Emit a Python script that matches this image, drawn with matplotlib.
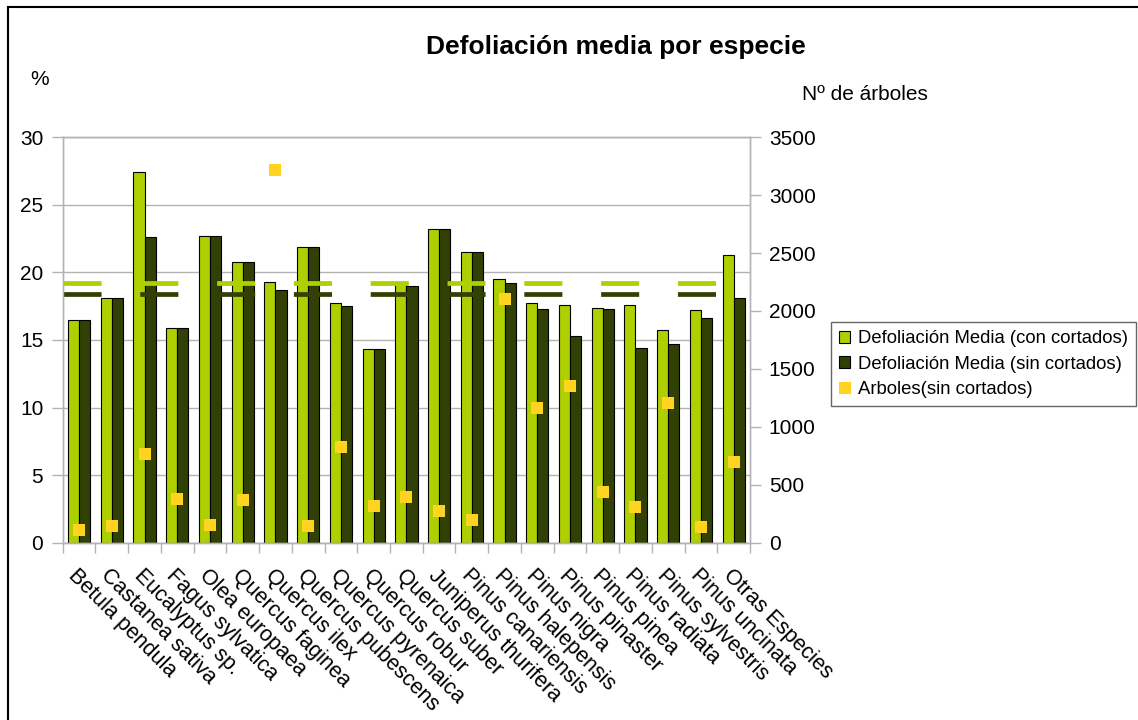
import numpy as np
import matplotlib
matplotlib.use("Agg")
import matplotlib.pyplot as plt
from matplotlib.lines import Line2D
from matplotlib.ticker import MultipleLocator, FixedLocator

plt.rcParams['font.family'] = ['Liberation Sans', 'DejaVu Sans']
plt.rcParams['lines.scale_dashes'] = False

# --- datos por especie ---
especies = [
    "Betula pendula", "Castanea sativa", "Eucalyptus sp.", "Fagus sylvatica",
    "Olea europaea", "Quercus faginea", "Quercus ilex", "Quercus pubescens",
    "Quercus pyrenaica", "Quercus robur", "Quercus suber", "Juniperus thurifera",
    "Pinus canariensis", "Pinus halepensis", "Pinus nigra", "Pinus pinaster",
    "Pinus pinea", "Pinus radiata", "Pinus sylvestris", "Pinus uncinata",
    "Otras Especies",
]
defol_con = [16.5, 18.1, 27.4, 15.9, 22.7, 20.8, 19.3, 21.9, 17.7, 14.3, 19.2,
             23.2, 21.5, 19.5, 17.7, 17.6, 17.4, 17.6, 15.7, 17.2, 21.3]
defol_sin = [16.5, 18.1, 22.6, 15.9, 22.7, 20.8, 18.7, 21.9, 17.5, 14.3, 19.0,
             23.2, 21.5, 19.2, 17.3, 15.3, 17.3, 14.4, 14.7, 16.6, 18.1]
arboles = [110, 140, 765, 380, 155, 365, 3220, 140, 830, 320, 395,
           275, 195, 2105, 1165, 1355, 435, 310, 1210, 135, 700]

# medias globales
media_con = 19.2
media_sin = 18.4

c_con = "#aecf00"
c_sin = "#314004"
c_arb = "#ffd320"
c_grid = "#b3b3b3"

fig = plt.figure(figsize=(11.38, 7.2), dpi=100)
ax = fig.add_axes([0.0551, 0.2463, 0.6040, 0.5631])
ax2 = ax.twinx()

x = np.arange(len(especies))
w = 0.34
b1 = ax.bar(x - w / 2, defol_con, w, color=c_con, edgecolor="black", linewidth=0.8,
            zorder=2, label="Defoliación Media (con cortados)")
b2 = ax.bar(x + w / 2, defol_sin, w, color=c_sin, edgecolor="black", linewidth=0.8,
            zorder=2, label="Defoliación Media (sin cortados)")

# lineas de media discontinuas
for val, col in [(media_con, c_con), (media_sin, c_sin)]:
    ax.plot([-0.5, len(especies) - 0.5], [val, val], color=col, lw=3.4,
            dashes=(27.4, 27.9), solid_capstyle="butt", dash_capstyle="butt", zorder=3)

m, = ax2.plot(x, arboles, "s", color=c_arb, markersize=8.6, markeredgewidth=0,
              linestyle="none", label="Arboles(sin cortados)", zorder=4)

ax.set_xlim(-0.5, len(especies) - 0.5)
ax.set_ylim(0, 30)
ax2.set_ylim(0, 3500)
ax.yaxis.set_major_locator(MultipleLocator(5))
ax2.yaxis.set_major_locator(MultipleLocator(500))

ax.yaxis.grid(True, color=c_grid, lw=1.0)
ax.set_axisbelow(True)

ax.set_xticks(x)
ax.set_xticklabels(especies, rotation=-45, ha="left", va="top",
                   rotation_mode="anchor", fontsize=15.5)
ax.xaxis.set_minor_locator(FixedLocator(np.arange(-0.5, len(especies), 1.0)))
ax.tick_params(axis="x", which="major", length=0, pad=16)
ax.tick_params(axis="x", which="minor", length=7.5, color=c_grid, width=1)
ax.tick_params(axis="y", length=8, color=c_grid, width=1, labelsize=15, pad=6)
ax2.tick_params(axis="y", length=8, color=c_grid, width=1, labelsize=15, pad=5.5)

for a in (ax, ax2):
    for s in a.spines.values():
        s.set_color(c_grid)
        s.set_linewidth(1.0)

fig.text(0.541, 0.9347, "Defoliación media por especie", ha="center", va="center",
         fontsize=19, fontweight="bold")
fig.text(0.0351, 0.890, "%", ha="center", va="center", fontsize=15)
fig.text(0.760, 0.8694, "Nº de árboles", ha="center", va="center", fontsize=15)

fig.legend(handles=[b1, b2, m], loc="upper left", bbox_to_anchor=(0.730, 0.5528),
           fontsize=13.3, frameon=True, fancybox=False, edgecolor="#666666",
           framealpha=1, handlelength=0.6, handleheight=0.6, handletextpad=0.4,
           borderpad=0.45, labelspacing=0.45, borderaxespad=0)

# marco exterior
fig.add_artist(Line2D([0.007, 1.0], [0.9896, 0.9896], color="black", lw=1.5))
fig.add_artist(Line2D([0.007, 0.007], [0.0, 0.9896], color="black", lw=1.5))

fig.savefig("out.png", dpi=100)
